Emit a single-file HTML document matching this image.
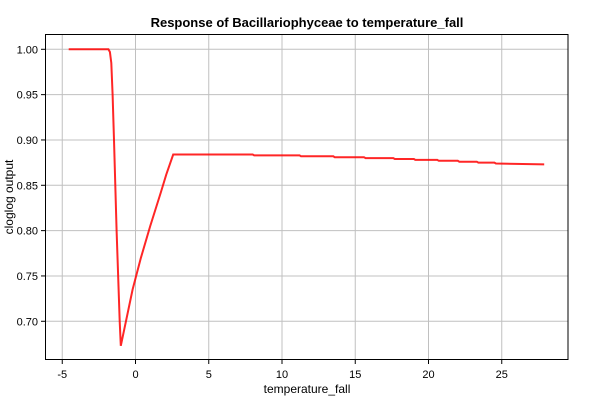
<!DOCTYPE html>
<html><head><meta charset="utf-8"><style>
body{margin:0;background:#fff;font-family:"Liberation Sans",sans-serif;}
</style></head><body>
<svg id="chart" width="600" height="400" xmlns="http://www.w3.org/2000/svg">
<text x="307" y="27" text-anchor="middle" font-size="13" font-weight="bold" font-family="Liberation Sans, sans-serif">Response of Bacillariophyceae to temperature_fall</text>
<g id="grid"></g>
<path id="line" fill="none" stroke="#ff0000" stroke-width="2" stroke-opacity="0.85"/>
<rect x="45.5" y="34.5" width="522.5" height="325" fill="none" stroke="#000" stroke-width="1"/>
<text x="307" y="393" text-anchor="middle" font-size="12">temperature_fall</text>
<text transform="translate(13,197) rotate(-90)" text-anchor="middle" font-size="12">cloglog output</text>
</svg>
<script>
const xTicks=[-5,0,5,10,15,20,25];
const yTicks=[0.70,0.75,0.80,0.85,0.90,0.95,1.00];
const xs=[-4.56,-1.85,-1.75,-1.65,-1.56,-1.47,-1.29,-1.08,-1.0,-0.2,0.37,1.0,1.73,2.1,2.57,8,8.1,11.2,11.3,13.5,13.6,15.6,15.7,17.6,17.7,19.0,19.1,20.6,20.7,22.0,22.1,23.3,23.4,24.5,24.6,27.9];
const ys=[1.0,1.0,0.997,0.985,0.95,0.90,0.80,0.70,0.673,0.735,0.770,0.805,0.842,0.862,0.884,0.884,0.883,0.883,0.882,0.882,0.881,0.881,0.880,0.880,0.879,0.879,0.878,0.878,0.877,0.877,0.876,0.876,0.875,0.875,0.874,0.873];
const X=v=>135.5+v*14.65;
const Y=v=>49.3+(1.0-v)/0.05*45.33;
const ns="http://www.w3.org/2000/svg";
const g=document.getElementById('grid');
function mk(t,a){const e=document.createElementNS(ns,t);for(const k in a)e.setAttribute(k,a[k]);g.appendChild(e);return e;}
xTicks.forEach(v=>{
 const gl=mk('line',{x1:X(v),x2:X(v),y1:35,y2:359,stroke:'#c0c0c0'});
 
 
 mk('line',{x1:X(v),x2:X(v),y1:360,y2:364,stroke:'#000'});
 const t=mk('text',{x:X(v),y:378,'text-anchor':'middle','font-size':'11'});
 t.textContent=v;
 
 
});
yTicks.forEach(v=>{
 const gl=mk('line',{x1:46,x2:568,y1:Y(v),y2:Y(v),stroke:'#c0c0c0'});
 
 
 mk('line',{x1:41,x2:45,y1:Y(v),y2:Y(v),stroke:'#000'});
 const t=mk('text',{x:38,y:Y(v)+4,'text-anchor':'end','font-size':'11'});
 t.textContent=v.toFixed(2);
 
 
});
document.getElementById('line').setAttribute('d',xs.map((v,i)=>(i?'L':'M')+X(v).toFixed(1)+','+Y(ys[i]).toFixed(1)).join(''));
</script>
</body></html>
